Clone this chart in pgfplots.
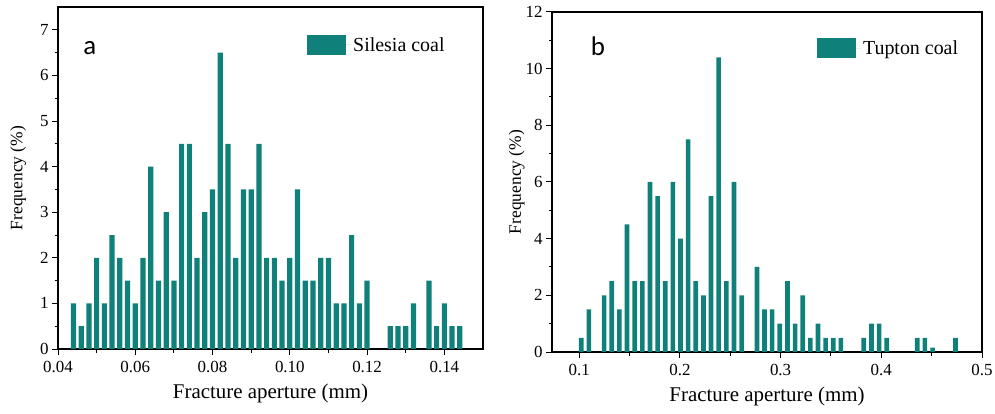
\documentclass[border=0pt]{standalone}
\usepackage{pgfplots}
\pgfplotsset{compat=1.18}
\usepackage{fontspec}
\setmainfont{Liberation Serif}
\newfontfamily\lblfont{Carlito}
\definecolor{barcol}{RGB}{16,128,122}
\begin{document}
\begin{tikzpicture}
\useasboundingbox (0bp,0bp) rectangle (995bp,414bp);
\pgfplotsset{
  every axis/.style={
    scale only axis,
    anchor=south west,
    axis line style={line width=1.3bp},
    tick style={line width=1bp,black},
    tick align=outside,
    tick pos=left,
    major tick length=6bp,
    minor tick length=3.5bp,
    ymin=0,
    /pgf/number format/assume math mode=true,
    tick label style={font=\fontsize{17}{17}\selectfont},
    xticklabel style={yshift=-3bp},
    xlabel style={font=\fontsize{21}{21}\selectfont, yshift=-4bp},
    ylabel style={font=\fontsize{17.5}{17.5}\selectfont},
    xlabel={Fracture aperture (mm)},
    ylabel={Frequency (\%)},
    legend style={draw=none,fill=none,inner sep=0pt,font=\fontsize{20}{20}\selectfont},
    legend image code/.code={\fill[barcol] (0bp,-10bp) rectangle (39bp,10bp); \path (0bp,0bp) -- (44bp,0bp);},
    legend cell align=left,
  },
}
\begin{axis}[
  at={(58bp,65bp)}, width=425bp, height=342bp,
  xmin=0.04, xmax=0.15, ymax=7.5,
  xtick={0.04,0.06,...,0.141}, minor x tick num=1,
  ytick={0,1,...,7}, minor y tick num=1,
  xticklabel style={/pgf/number format/.cd,fixed,fixed zerofill,precision=2},
  ylabel style={yshift=7bp},
  legend style={at={(0.586,0.889)},anchor=west},
]
\addplot[ybar, bar width=0.00135, bar shift=0pt, fill=barcol, draw=none] coordinates {
(0.044,1.0) (0.046,0.5) (0.048,1.0) (0.050,2.0) (0.052,1.0) (0.054,2.5)
(0.056,2.0) (0.058,1.5) (0.060,1.0) (0.062,2.0) (0.064,4.0) (0.066,1.5)
(0.068,3.0) (0.070,1.5) (0.072,4.5) (0.074,4.5) (0.076,2.0) (0.078,3.0)
(0.080,3.5) (0.082,6.5) (0.084,4.5) (0.086,2.0) (0.088,3.5) (0.090,3.5)
(0.092,4.5) (0.094,2.0) (0.096,2.0) (0.098,1.5) (0.100,2.0) (0.102,3.5)
(0.104,1.5) (0.106,1.5) (0.108,2.0) (0.110,2.0) (0.112,1.0) (0.114,1.0)
(0.116,2.5) (0.118,1.0) (0.120,1.5) (0.126,0.5) (0.128,0.5) (0.130,0.5)
(0.132,1.0) (0.136,1.5) (0.138,0.5) (0.140,1.0) (0.142,0.5) (0.144,0.5)
};
\addlegendentry{Silesia coal}
\node[font=\lblfont\fontsize{27}{27}\selectfont] at (rel axis cs:0.075,0.88) {a};
\end{axis}
\begin{axis}[
  at={(552bp,62bp)}, width=430bp, height=340bp,
  xmin=0.073, xmax=0.5, ymax=12,
  xtick={0.1,0.2,0.3,0.4,0.5}, minor x tick num=1,
  ytick={0,2,...,12}, minor y tick num=1,
  xticklabel style={/pgf/number format/.cd,fixed,precision=1},
  ylabel style={yshift=-6bp},
  legend style={at={(0.616,0.894)},anchor=west},
]
\addplot[ybar, bar width=0.0046, bar shift=0pt, fill=barcol, draw=none] coordinates {
(0.1020,0.5) (0.1096,1.5) (0.1248,2.0) (0.1323,2.5) (0.1399,1.5) (0.1475,4.5)
(0.1551,2.5) (0.1627,2.5) (0.1703,6.0) (0.1779,5.5) (0.1854,2.5) (0.1930,6.0)
(0.2006,4.0) (0.2082,7.5) (0.2158,2.5) (0.2234,2.0) (0.2309,5.5) (0.2385,10.4)
(0.2461,2.5) (0.2537,6.0) (0.2613,2.0) (0.2765,3.0) (0.2840,1.5) (0.2916,1.5)
(0.2992,1.0) (0.3068,2.5) (0.3144,1.0) (0.3220,2.0) (0.3296,0.5) (0.3371,1.0)
(0.3447,0.5) (0.3523,0.5) (0.3599,0.5) (0.3826,0.5) (0.3902,1.0) (0.3978,1.0)
(0.4054,0.5) (0.4357,0.5) (0.4433,0.5) (0.4509,0.15) (0.4737,0.5)
};
\addlegendentry{Tupton coal}
\node[font=\lblfont\fontsize{27}{27}\selectfont] at (rel axis cs:0.107,0.90) {b};
\end{axis}
\end{tikzpicture}
\end{document}
